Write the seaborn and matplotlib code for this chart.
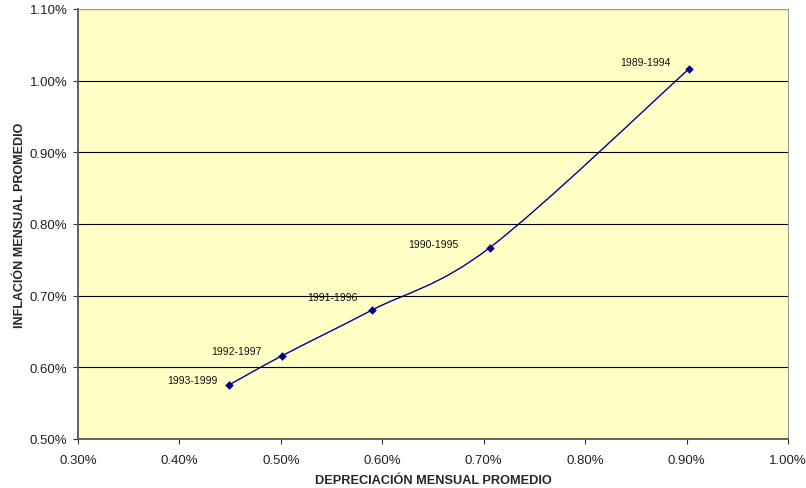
import numpy as np
import pandas as pd
import matplotlib
matplotlib.use("Agg")
import matplotlib.pyplot as plt
from matplotlib.path import Path
from matplotlib.patches import PathPatch
import matplotlib.ticker as mticker
import seaborn as sns

periods = ["1993-1999", "1992-1997", "1991-1996", "1990-1995", "1989-1994"]
depreciation = [0.449, 0.501, 0.590, 0.706, 0.902]
inflation = [0.5755, 0.616, 0.680, 0.767, 1.016]
x_ticks = [0.30, 0.40, 0.50, 0.60, 0.70, 0.80, 0.90, 1.00]
y_ticks = [0.50, 0.60, 0.70, 0.80, 0.90, 1.00, 1.10]
label_offsets = [(-12, 5), (-20, 5), (-15, 13), (-31, 4), (-18, 7)]

df = pd.DataFrame({"periodo": periods, "dep": depreciation, "inf": inflation})

sns.set_style("white")
plt.rcParams["font.family"] = ["Liberation Sans", "DejaVu Sans"]

fig = plt.figure(figsize=(8.06, 4.89), dpi=100)
ax = fig.add_axes([78 / 806, 49 / 489, 710 / 806, 430 / 489])
ax.set_facecolor("#FFFFC6")

ax.set_xlim(0.30, 1.00)
ax.set_ylim(0.50, 1.10)

# smoothed line (Excel-style Bezier through data points)
pts = np.column_stack([df["dep"].to_numpy(), df["inf"].to_numpy()])
sx = 1 / 0.7
sy = 1 / 0.6
P = pts * [sx, sy]
verts = [P[0]]
codes = [Path.MOVETO]
n = len(P)
for i in range(n - 1):
    p0 = P[i - 1] if i > 0 else P[i]
    p1 = P[i]
    p2 = P[i + 1]
    p3 = P[i + 2] if i + 2 < n else P[i + 1]
    c1 = p1 + (p2 - p0) / 6
    c2 = p2 - (p3 - p1) / 6
    verts += [c1, c2, p2]
    codes += [Path.CURVE4] * 3
verts = np.array(verts) / [sx, sy]
ax.add_patch(PathPatch(Path(verts, codes), facecolor="none", edgecolor="#000099", lw=1.0, zorder=3))

sns.scatterplot(data=df, x="dep", y="inf", marker="D", s=16, color="#000080",
                edgecolor="#000080", ax=ax, zorder=4, legend=False)

for p, xv, yv, (dx, dy) in zip(periods, depreciation, inflation, label_offsets):
    ax.annotate(p, (xv, yv), xytext=(dx, dy), textcoords="offset pixels",
                ha="right", va="center", fontsize=7.5, color="#111111")

ax.set_xticks(x_ticks)
ax.set_yticks(y_ticks)
ax.xaxis.set_major_formatter(mticker.FuncFormatter(lambda v, _: f"{v:.2f}%"))
ax.yaxis.set_major_formatter(mticker.FuncFormatter(lambda v, _: f"{v:.2f}%"))
ax.tick_params(axis="both", labelsize=9.5, length=3.5, width=0.8, color="#333333",
               labelcolor="#222222", direction="out", bottom=True, left=True)
ax.tick_params(axis="x", pad=7)
ax.tick_params(axis="y", pad=4)
ax.grid(axis="y", color="#000000", lw=0.8)
ax.grid(axis="x", visible=False)
for side in ["left", "bottom"]:
    ax.spines[side].set_color("#555555")
    ax.spines[side].set_linewidth(1.3)
for side in ["top", "right"]:
    ax.spines[side].set_color("#999999")
    ax.spines[side].set_linewidth(0.8)

ax.set_xlabel("DEPRECIACIÓN MENSUAL PROMEDIO", fontsize=9.2, fontweight="bold", labelpad=6)
ax.set_ylabel("INFLACIÓN MENSUAL PROMEDIO", fontsize=9, fontweight="bold", labelpad=3)

fig.savefig("out.png", dpi=100, facecolor="white")
